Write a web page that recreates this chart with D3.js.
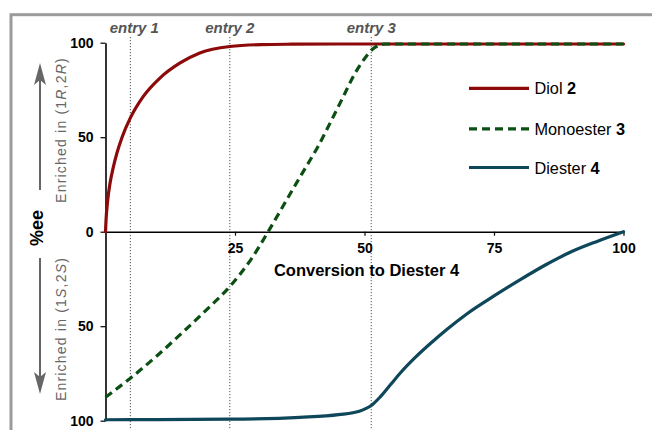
<!DOCTYPE html>
<html>
<head>
<meta charset="utf-8">
<script src="https://cdn.jsdelivr.net/npm/d3@7"></script>
<style>
  html, body { margin: 0; padding: 0; background: #fff; }
  svg { display: block; font-family: "Liberation Sans", Arial, sans-serif; }
</style>
</head>
<body>
<svg id="chart" width="652" height="430"></svg>
<script>
// ---------- data ----------
const diolX   = [0, 0.1, 0.4, 0.9, 1.5, 2.2, 3.2, 4.8, 7.3, 10.5, 14.4, 18.2, 24, 30, 36, 45, 55, 70, 85, 100];
const diolY   = [0, 6, 16, 26, 34, 41.6, 50, 60.2, 71.6, 81.3, 89.3, 94.6, 98, 99, 99.2, 99.3, 99.3, 99.3, 99.3, 99.3];

const monoX   = [0, 4.8, 10, 15, 20, 24, 28, 31.4, 35, 38, 41, 44, 46, 48, 50, 52, 54, 60, 75, 100];
const monoY   = [-87.6, -77.5, -65.5, -53, -40, -29, -15, 0, 17, 31, 45, 61, 72, 83, 91.5, 97.5, 99.3, 99.3, 99.3, 99.3];

const diesX   = [0, 10, 24, 37.5, 45, 49, 51.3, 53, 55, 57, 60, 63, 66, 70, 75, 80, 85, 90, 95, 100];
const diesY   = [-99.5, -99.4, -99.2, -98.2, -96.8, -95, -92, -87.5, -81, -74.5, -66, -58.5, -51.5, -43, -34, -25.5, -17.5, -10.5, -5, 0];

const entryX      = [4.8, 24, 51.3];
const entryLabels = ["entry 1", "entry 2", "entry 3"];

const xTicks = [25, 50, 75, 100];
const yTicks = [100, 50, 0, -50, -100];

const seriesNames  = ["Diol", "Monoester", "Diester"];
const seriesNums   = ["2", "3", "4"];
const seriesColors = ["#8c0a0a", "#0b4f12", "#0e465a"];

// ---------- layout ----------
const svg = d3.select("#chart");
const x = d3.scaleLinear().domain([0, 100]).range([105.5, 623.5]);
const y = d3.scaleLinear().domain([-100, 100]).range([420.7, 42.7]);

// frame
svg.append("rect").attr("x", 11).attr("y", 14.7).attr("width", 720).attr("height", 500)
  .attr("fill", "none").attr("stroke", "#9b9b9b").attr("stroke-width", 3);

// entry dotted lines
const eg = svg.append("g");
entryX.forEach((e, i) => {
  eg.append("line").attr("x1", x(e)).attr("x2", x(e)).attr("y1", 37).attr("y2", 432)
    .attr("stroke", "#555").attr("stroke-width", 1).attr("stroke-dasharray", "1.2,1.8");
  eg.append("text").attr("x", x(e) + (i === 0 ? 4 : 0)).attr("y", 33).attr("text-anchor", "middle")
    .attr("font-size", 15).attr("font-weight", "bold").attr("font-style", "italic")
    .attr("fill", "#555").text(entryLabels[i]);
});

// axes
const yAxis = d3.axisLeft(y).tickValues(yTicks).tickSize(5).tickPadding(7).tickSizeOuter(0)
  .tickFormat(d => Math.abs(d));
const gy = svg.append("g").attr("transform", `translate(${x(0)},0)`).call(yAxis);
const xAxis = d3.axisBottom(x).tickValues(xTicks).tickSize(4).tickPadding(7).tickSizeOuter(0);
const gx = svg.append("g").attr("transform", `translate(0,${y(0)})`).call(xAxis);
[gx, gy].forEach(g => {
  g.select(".domain").attr("stroke", "#000").attr("stroke-width", 1.6);
  g.selectAll(".tick line").attr("stroke", "#000").attr("stroke-width", 1.2);
  g.selectAll(".tick text").attr("font-size", 14).attr("font-weight", "bold")
    .attr("fill", "#000").attr("font-family", "Liberation Sans, Arial, sans-serif");
});

// x-axis title
svg.append("text").attr("x", (x(0) + x(100)) / 2 + 2).attr("y", 275.5)
  .attr("text-anchor", "middle").attr("font-size", 16.5).attr("font-weight", "bold").attr("fill", "#000")
  .text("Conversion to Diester 4");

// left annotations
svg.append("text").attr("transform", "translate(43,228) rotate(-90)")
  .attr("text-anchor", "middle").attr("font-size", 18).attr("font-weight", "bold").text("%ee");

function enriched(cy, letter) {
  const t = svg.append("text").attr("transform", `translate(66,${cy}) rotate(-90)`)
    .attr("text-anchor", "middle").attr("font-size", 14).attr("fill", "#666")
    .attr("letter-spacing", 1.2);
  t.append("tspan").text("Enriched in (1");
  t.append("tspan").attr("font-style", "italic").text(letter);
  t.append("tspan").text(",2");
  t.append("tspan").attr("font-style", "italic").text(letter);
  t.append("tspan").text(")");
}
enriched(130, "R");
enriched(329, "S");

// arrows
function arrow(yTail, yTip) {
  const dir = yTip < yTail ? 1 : -1;
  svg.append("line").attr("x1", 40).attr("x2", 40).attr("y1", yTail).attr("y2", yTip + dir * 12)
    .attr("stroke", "#666").attr("stroke-width", 2);
  svg.append("path")
    .attr("d", `M40,${yTip} L46,${yTip + dir * 22} L40,${yTip + dir * 17} L34,${yTip + dir * 22} Z`)
    .attr("fill", "#666");
}
arrow(190, 63);
arrow(258, 394);

// lines
const line = d3.line().x(d => x(d[0])).y(d => y(d[1])).curve(d3.curveMonotoneX);
const series = [
  { xs: diolX, ys: diolY, dash: null },
  { xs: monoX, ys: monoY, dash: "8,5" },
  { xs: diesX, ys: diesY, dash: null }
];
[2, 0, 1].forEach(i => {
  const s = series[i];
  svg.append("path").datum(s.xs.map((v, j) => [v, s.ys[j]]))
    .attr("d", line).attr("fill", "none").attr("stroke", seriesColors[i])
    .attr("stroke-width", 3.2).attr("stroke-linecap", s.dash ? "butt" : "round")
    .attr("stroke-dasharray", s.dash);
});

// legend
const legY = [88.3, 128.8, 167.5];
seriesNames.forEach((n, i) => {
  const s = series[i];
  svg.append("line").attr("x1", 469).attr("x2", 529).attr("y1", legY[i]).attr("y2", legY[i])
    .attr("stroke", seriesColors[i]).attr("stroke-width", 3.2).attr("stroke-dasharray", s.dash);
  const t = svg.append("text").attr("x", 534.5).attr("y", legY[i] + 6).attr("font-size", 16.3).attr("fill", "#000");
  t.append("tspan").text(n + " ");
  t.append("tspan").attr("font-weight", "bold").text(seriesNums[i]);
});
</script>
</body>
</html>
